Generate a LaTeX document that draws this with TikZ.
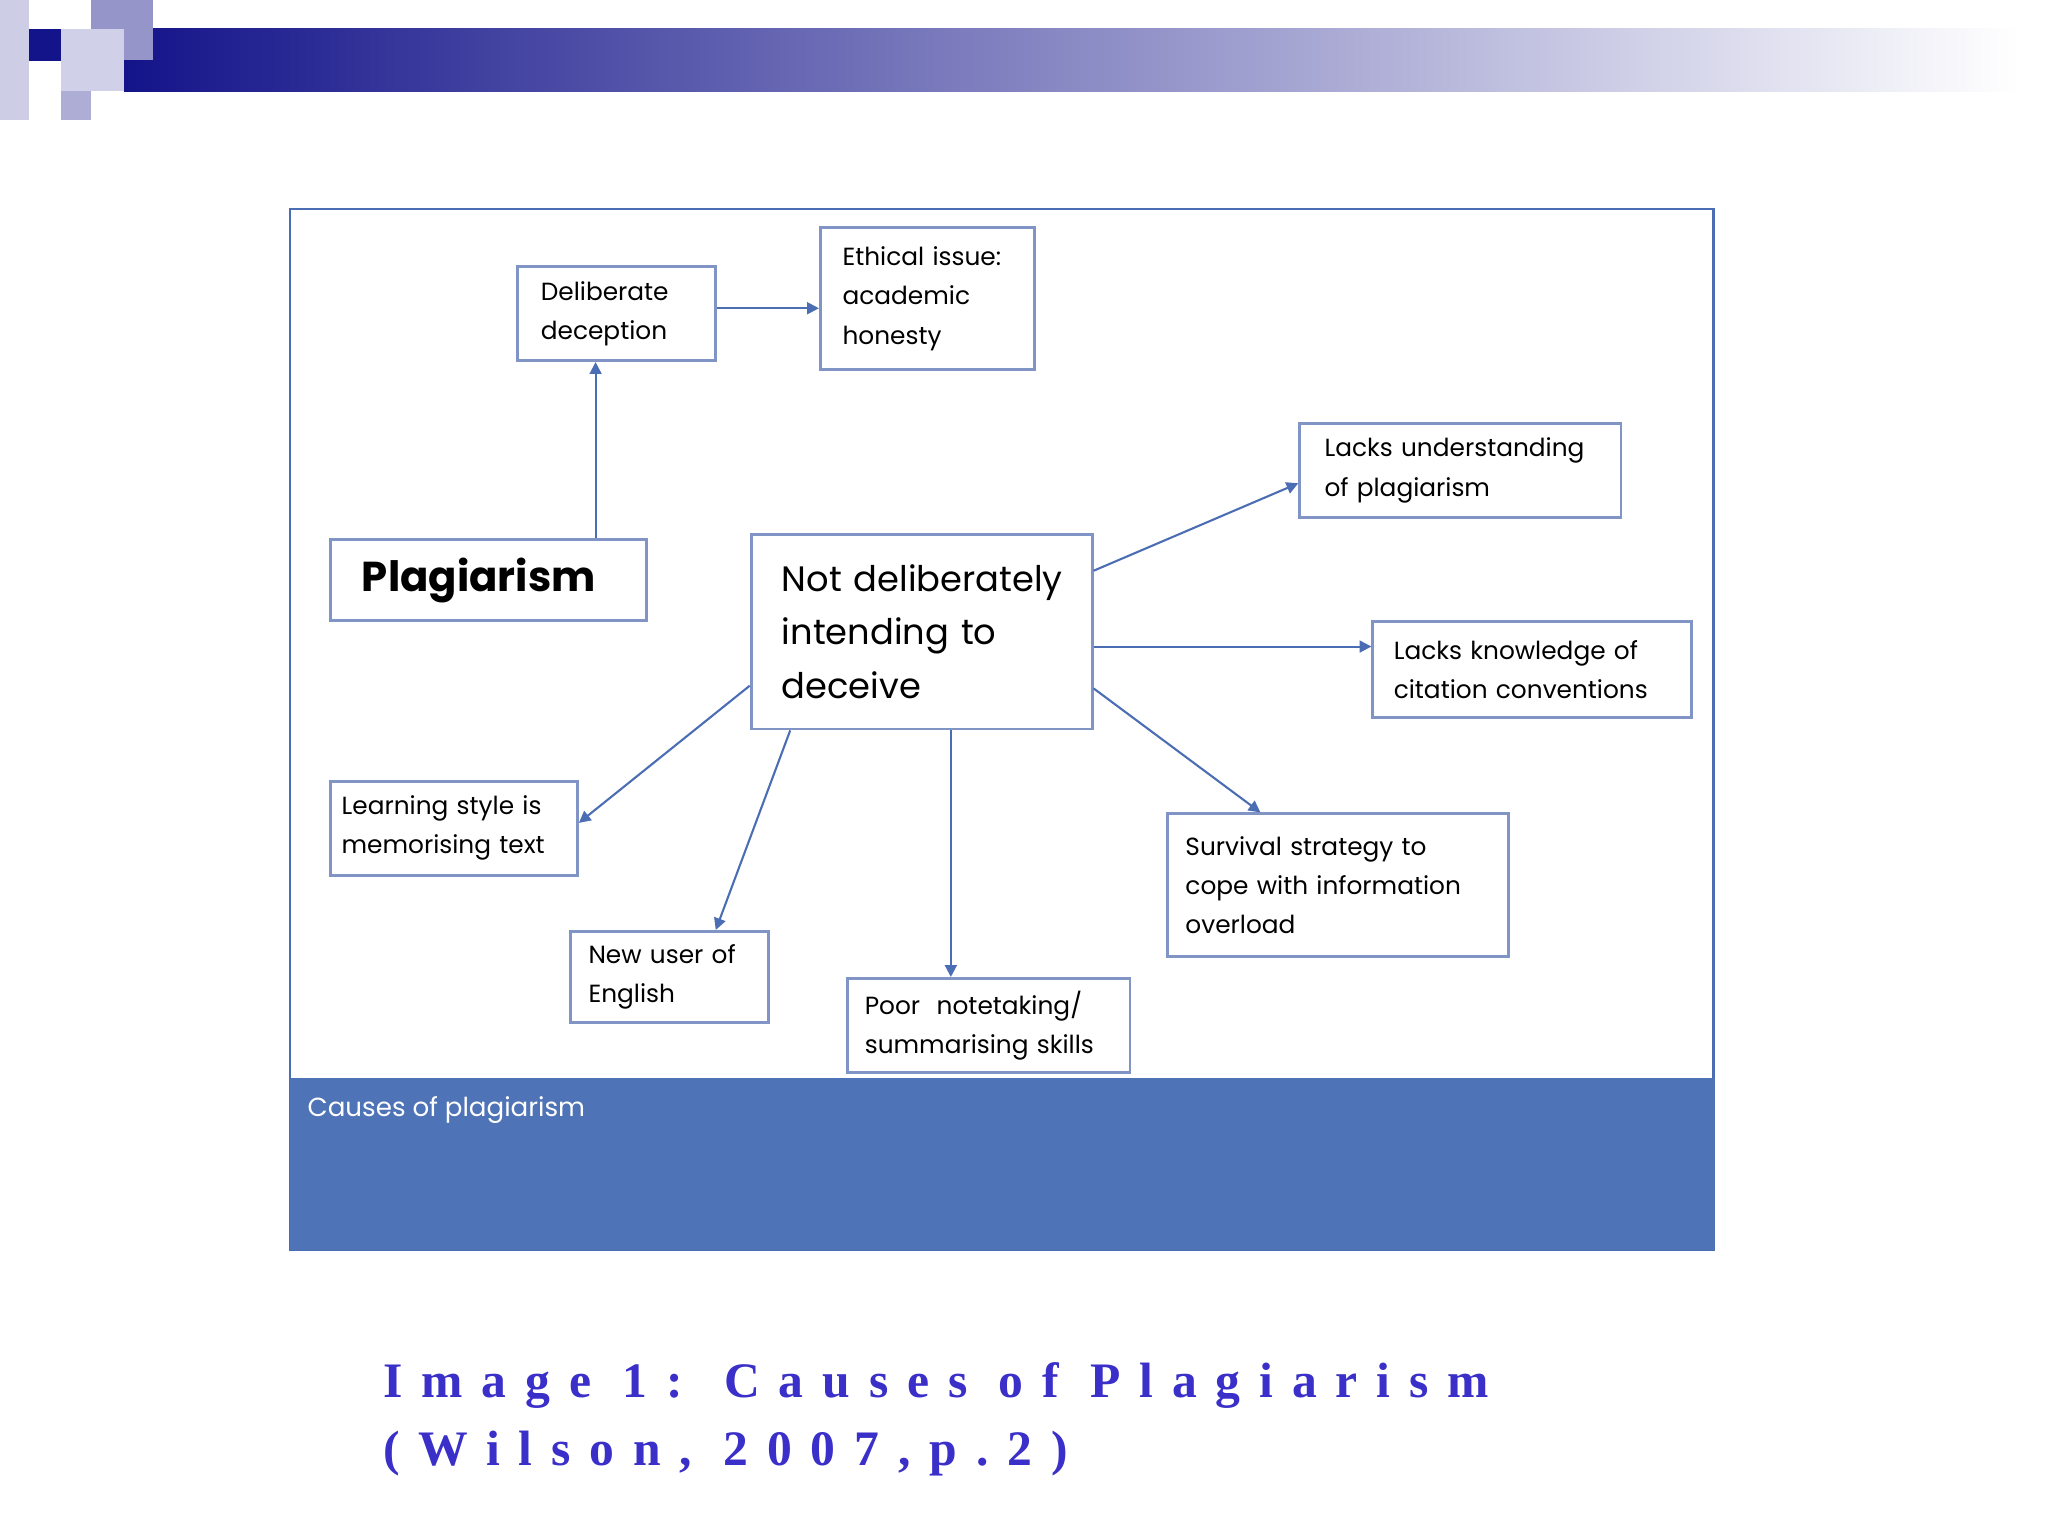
\documentclass[tikz,border=0pt]{standalone}
\usepackage{fontspec}
\setmainfont{Liberation Serif}
\newfontfamily\dsans{Poppins}
\usetikzlibrary{arrows.meta}
\definecolor{bx}{HTML}{8094C6}
\definecolor{ar}{HTML}{4A6DB4}
\definecolor{band}{HTML}{4E73B7}
\definecolor{navy}{HTML}{14148A}
\definecolor{cap}{HTML}{3A2FC8}
\begin{document}
\begin{tikzpicture}[x=1pt,y=-1pt,
  bx/.style={draw=bx,line width=2.2pt,fill=white,anchor=north west,align=left,inner sep=0pt,font=\dsans\fontsize{19}{30}\selectfont},
  ar/.style={draw=ar,line width=1.6pt,-{Triangle[length=9pt,width=9pt]}}]
\useasboundingbox (0,0) rectangle (1568,1176);
\fill[white] (0,0) rectangle (1568,1176);
% header
\shade[left color=navy,right color=white] (95,22) rectangle (1545,70);
\fill[navy!60!white,opacity=.35] (0,0) rectangle (22,92);
\fill[navy!45!white] (70,0) rectangle (117,46);
\fill[navy!35!white] (47,46) rectangle (70,92);
\fill[navy!20!white] (47,22) rectangle (95,70);
\fill[navy] (22,22) rectangle (47,47);
% frame
\draw[draw=ar,line width=2pt,fill=white] (222,160) rectangle (1312,957);
\fill[band] (222,825) rectangle (1313,957);
\node[anchor=west,text=white,font=\dsans\fontsize{20}{24}\selectfont] (cap) at (232,850) {Causes of plagiarism};
% nodes
\node[bx,minimum width=152pt,minimum height=72pt,text width=136pt] (dd) at (395,203) {\hspace*{10pt}Deliberate\\\hspace*{10pt}deception};
\node[bx,minimum width=164pt,minimum height=109pt,text width=150pt] (eth) at (627,173) {\hspace*{10pt}Ethical issue:\\\hspace*{10pt}academic\\\hspace*{10pt}honesty};
\node[bx,minimum width=242pt,minimum height=62pt,font=\dsans\bfseries\fontsize{32}{36}\selectfont,text width=230pt] (pl) at (252,412) {\hspace*{18pt}Plagiarism};
\node[bx,minimum width=261pt,minimum height=149pt,text width=250pt,font=\dsans\fontsize{27}{41}\selectfont] (nd) at (574,408) {\hspace*{18pt}Not deliberately\\\hspace*{18pt}intending to\\\hspace*{18pt}deceive};
\node[bx,minimum width=246pt,minimum height=72pt,text width=236pt] (lu) at (994,323) {\hspace*{14pt}Lacks understanding\\\hspace*{14pt}of plagiarism};
\node[bx,minimum width=244pt,minimum height=73pt,text width=236pt] (lk) at (1050,475) {\hspace*{12pt}Lacks knowledge of\\\hspace*{12pt}citation conventions};
\node[bx,minimum width=261pt,minimum height=109pt,text width=250pt] (sv) at (893,622) {\hspace*{8pt}Survival strategy to\\\hspace*{8pt}cope with information\\\hspace*{8pt}overload};
\node[bx,minimum width=216pt,minimum height=72pt,text width=206pt] (pn) at (648,748) {\hspace*{8pt}Poor\ \ notetaking/\\\hspace*{8pt}summarising skills};
\node[bx,minimum width=151pt,minimum height=70pt,text width=140pt] (nu) at (436,712) {\hspace*{8pt}New user of\\\hspace*{8pt}English};
\node[bx,minimum width=189pt,minimum height=72pt,text width=180pt] (ls) at (252,597) {\hspace*{4pt}Learning style is\\\hspace*{4pt}memorising text};
% arrows
\draw[ar] (pl.north -| 456,0) -- (dd.south -| 456,0);
\draw[ar] (dd.east |- 0,236) -- (eth.west |- 0,236);
\draw[ar] (nd.east |- 0,437) -- (lu.west |- 0,370);
\draw[ar] (nd.east |- 0,495) -- (lk.west |- 0,495);
\draw[ar] (nd.east |- 0,527) -- (sv.north -| 965,0);
\draw[ar] (nd.south -| 728,0) -- (pn.north -| 728,0);
\draw[ar] (nd.south -| 605,0) -- (nu.north -| 548,0);
\draw[ar] (nd.west |- 0,525) -- (ls.east |- 0,630);
% caption
\node[anchor=north west,align=left,text=cap,font=\bfseries\fontsize{38}{52}\selectfont\addfontfeature{LetterSpace=38}] (ct) at (290,1040) {Image 1: Causes of Plagiarism\\(Wilson, 2007,p.2)};
\end{tikzpicture}
\end{document}
